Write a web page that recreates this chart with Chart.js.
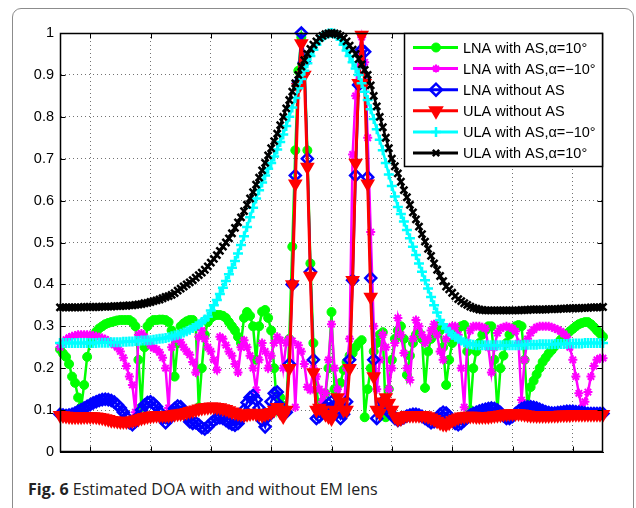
<!DOCTYPE html>
<html>
<head>
<meta charset="utf-8">
<script src="https://cdn.jsdelivr.net/npm/chart.js@4.4.1/dist/chart.umd.min.js"></script>
<style>
  html, body { margin: 0; padding: 0; background: #fff; overflow: hidden; width: 636px; height: 508px; }
  #frame { position: absolute; left: 12px; top: 8px; width: 620px; height: 560px; border: 1px solid #8c8c8c; border-radius: 9px; }
  #chart { position: absolute; left: 0; top: 0; }
  #caption { position: absolute; left: 28px; top: 478px; font-family: 'Open Sans', sans-serif; font-size: 16px; color: #222; white-space: nowrap; }
  #caption b { font-weight: 700; }
</style>
</head>
<body>
<div id="frame"></div>
<canvas id="chart" width="636" height="470"></canvas>
<div id="caption"><b>Fig. 6</b> Estimated DOA with and without EM lens</div>
<script>
//////////////
//
//   DATA (angle in degrees, normalised spectrum)
//
//////////////

var angles = [
  -90,-89,-88,-87,-86,-85,-84,-83,-82,-81,
  -80,-79,-78,-77,-76,-75,-74,-73,-72,-71,
  -70,-69,-68,-67,-66,-65,-64,-63,-62,-61,
  -60,-59,-58,-57,-56,-55,-54,-53,-52,-51,
  -50,-49,-48,-47,-46,-45,-44,-43,-42,-41,
  -40,-39,-38,-37,-36,-35,-34,-33,-32,-31,
  -30,-29,-28,-27,-26,-25,-24,-23,-22,-21,
  -20,-19,-18,-17,-16,-15,-14,-13,-12,-11,
  -10,-9,-8,-7,-6,-5,-4,-3,-2,-1,
  0,1,2,3,4,5,6,7,8,9,
  10,11,12,13,14,15,16,17,18,19,
  20,21,22,23,24,25,26,27,28,29,
  30,31,32,33,34,35,36,37,38,39,
  40,41,42,43,44,45,46,47,48,49,
  50,51,52,53,54,55,56,57,58,59,
  60,61,62,63,64,65,66,67,68,69,
  70,71,72,73,74,75,76,77,78,79,
  80,81,82,83,84,85,86,87,88,89,
  90
];

// LNA with AS, alpha = 10
var lnaAsPos = [
  0.245,0.235,0.227,0.21,0.18,0.165,0.13,0.107,0.16,0.227,
  0.26,0.275,0.287,0.295,0.3,0.305,0.308,0.31,0.312,0.314,
  0.315,0.315,0.315,0.315,0.31,0.3,0.22,0.107,0.25,0.3,
  0.31,0.315,0.315,0.316,0.316,0.315,0.31,0.29,0.18,0.26,
  0.3,0.307,0.312,0.315,0.315,0.3,0.107,0.2,0.28,0.31,
  0.32,0.325,0.327,0.327,0.325,0.32,0.31,0.3,0.29,0.275,
  0.26,0.32,0.334,0.325,0.3,0.22,0.3,0.335,0.339,0.32,
  0.29,0.2,0.1,0.13,0.11,0.1,0.27,0.49,0.72,0.91,
  0.99,0.93,0.72,0.45,0.26,0.15,0.1,0.12,0.14,0.2,
  0.334,0.15,0.12,0.165,0.196,0.215,0.23,0.236,0.25,0.26,
  0.267,0.083,0.15,0.2,0.24,0.26,0.28,0.286,0.083,0.15,
  0.22,0.27,0.29,0.3,0.27,0.184,0.23,0.26,0.28,0.285,
  0.27,0.153,0.24,0.27,0.29,0.3,0.29,0.25,0.16,0.22,
  0.26,0.28,0.295,0.3,0.303,0.24,0.1,0.2,0.24,0.26,
  0.28,0.29,0.3,0.3,0.22,0.1,0.2,0.23,0.26,0.28,
  0.29,0.3,0.303,0.3,0.22,0.107,0.155,0.17,0.185,0.2,
  0.215,0.225,0.235,0.243,0.252,0.26,0.268,0.275,0.282,0.288,
  0.294,0.3,0.305,0.308,0.31,0.31,0.305,0.298,0.29,0.283,
  0.275
];

// LNA with AS, alpha = -10
var lnaAsNeg = [
  0.25,0.26,0.268,0.273,0.276,0.278,0.28,0.28,0.28,0.28,
  0.279,0.278,0.276,0.274,0.272,0.269,0.265,0.261,0.256,0.25,
  0.24,0.225,0.205,0.18,0.16,0.095,0.28,0.283,0.275,0.265,
  0.255,0.248,0.245,0.238,0.225,0.2,0.105,0.25,0.27,0.275,
  0.262,0.25,0.24,0.232,0.215,0.19,0.275,0.29,0.27,0.25,
  0.24,0.22,0.196,0.275,0.27,0.255,0.24,0.23,0.21,0.19,
  0.25,0.267,0.25,0.23,0.2,0.148,0.22,0.26,0.24,0.2,
  0.23,0.26,0.275,0.267,0.2,0.26,0.27,0.265,0.107,0.255,
  0.24,0.21,0.155,0.148,0.2,0.18,0.15,0.12,0.14,0.22,
  0.305,0.2,0.15,0.12,0.1,0.2,0.27,0.71,0.85,0.95,
  0.99,0.93,0.75,0.525,0.3,0.15,0.22,0.28,0.25,0.15,
  0.2,0.26,0.32,0.28,0.236,0.2,0.172,0.27,0.315,0.3,
  0.28,0.26,0.27,0.29,0.305,0.28,0.24,0.22,0.27,0.295,
  0.3,0.3,0.28,0.2,0.107,0.26,0.29,0.3,0.3,0.3,
  0.298,0.295,0.25,0.19,0.25,0.284,0.295,0.298,0.3,0.298,
  0.295,0.288,0.26,0.124,0.22,0.27,0.284,0.292,0.298,0.3,
  0.3,0.3,0.3,0.298,0.295,0.292,0.288,0.282,0.275,0.25,
  0.22,0.18,0.14,0.105,0.12,0.143,0.18,0.205,0.22,0.224,
  0.224
];

// LNA without AS
var lnaNoAs = [
  0.09,0.088,0.087,0.088,0.09,0.093,0.097,0.101,0.105,0.109,
  0.113,0.117,0.12,0.123,0.125,0.126,0.125,0.123,0.119,0.113,
  0.105,0.095,0.083,0.07,0.065,0.072,0.085,0.1,0.112,0.118,
  0.12,0.116,0.108,0.096,0.08,0.07,0.078,0.092,0.104,0.11,
  0.108,0.098,0.085,0.072,0.068,0.07,0.065,0.058,0.055,0.06,
  0.068,0.075,0.08,0.082,0.08,0.075,0.07,0.066,0.064,0.068,
  0.08,0.1,0.118,0.13,0.135,0.125,0.105,0.075,0.06,0.085,
  0.12,0.14,0.143,0.11,0.09,0.095,0.21,0.4,0.66,0.88,
  1.0,0.93,0.7,0.43,0.22,0.08,0.085,0.095,0.105,0.115,
  0.12,0.11,0.095,0.08,0.09,0.12,0.22,0.41,0.66,0.876,
  0.96,0.955,0.656,0.415,0.22,0.08,0.1,0.12,0.11,0.095,
  0.09,0.08,0.075,0.078,0.082,0.086,0.088,0.09,0.09,0.088,
  0.085,0.08,0.075,0.07,0.072,0.08,0.09,0.095,0.093,0.085,
  0.075,0.068,0.065,0.068,0.075,0.082,0.088,0.092,0.095,0.098,
  0.1,0.102,0.104,0.105,0.104,0.1,0.094,0.086,0.08,0.08,
  0.085,0.092,0.098,0.103,0.106,0.108,0.108,0.107,0.105,0.102,
  0.099,0.096,0.094,0.093,0.093,0.094,0.095,0.096,0.097,0.097,
  0.097,0.096,0.095,0.094,0.093,0.092,0.092,0.092,0.092,0.092,
  0.092
];

// ULA without AS
var ulaNoAs = [
  0.088,0.087,0.086,0.085,0.084,0.084,0.084,0.084,0.085,0.085,
  0.085,0.085,0.084,0.083,0.082,0.08,0.078,0.076,0.075,0.074,
  0.073,0.073,0.073,0.074,0.075,0.077,0.079,0.081,0.083,0.085,
  0.086,0.087,0.088,0.088,0.088,0.088,0.088,0.089,0.09,0.091,
  0.092,0.093,0.095,0.097,0.099,0.101,0.103,0.105,0.106,0.107,
  0.108,0.108,0.107,0.106,0.104,0.102,0.099,0.096,0.094,0.092,
  0.09,0.089,0.09,0.092,0.093,0.092,0.09,0.088,0.09,0.093,
  0.095,0.1,0.107,0.095,0.085,0.1,0.2,0.4,0.64,0.87,
  0.975,0.9,0.68,0.42,0.19,0.1,0.105,0.1,0.09,0.085,
  0.08,0.1,0.13,0.12,0.1,0.1,0.2,0.41,0.69,0.88,
  0.995,0.88,0.64,0.37,0.18,0.1,0.093,0.12,0.13,0.117,
  0.1,0.085,0.078,0.08,0.085,0.088,0.088,0.088,0.088,0.088,
  0.088,0.087,0.085,0.082,0.078,0.074,0.07,0.067,0.066,0.07,
  0.075,0.079,0.082,0.084,0.085,0.086,0.086,0.086,0.085,0.085,
  0.085,0.085,0.085,0.086,0.087,0.088,0.089,0.09,0.091,0.092,
  0.092,0.092,0.092,0.091,0.09,0.089,0.088,0.088,0.087,0.087,
  0.087,0.087,0.087,0.088,0.088,0.088,0.089,0.089,0.089,0.089,
  0.09,0.09,0.09,0.09,0.09,0.09,0.09,0.09,0.09,0.09,
  0.09
];

// ULA with AS, alpha = -10
var ulaAsNeg = [
  0.26,0.26,0.26,0.26,0.26,0.26,0.26,0.26,0.26,0.26,
  0.26,0.26,0.26,0.261,0.261,0.261,0.261,0.262,0.262,0.262,
  0.262,0.263,0.263,0.264,0.264,0.265,0.265,0.266,0.266,0.267,
  0.267,0.268,0.269,0.27,0.271,0.272,0.274,0.276,0.278,0.28,
  0.282,0.285,0.288,0.292,0.296,0.3,0.305,0.31,0.316,0.323,
  0.338,0.35,0.363,0.377,0.392,0.408,0.424,0.44,0.456,0.474,
  0.494,0.515,0.537,0.56,0.583,0.605,0.625,0.643,0.66,0.676,
  0.69,0.705,0.722,0.74,0.758,0.778,0.8,0.822,0.845,0.868,
  0.89,0.91,0.928,0.945,0.96,0.972,0.983,0.991,0.996,0.999,
  1.0,0.998,0.993,0.984,0.972,0.958,0.945,0.93,0.915,0.9,
  0.88,0.86,0.84,0.818,0.795,0.77,0.745,0.72,0.69,0.662,
  0.635,0.61,0.585,0.568,0.55,0.53,0.51,0.49,0.47,0.45,
  0.43,0.41,0.39,0.37,0.35,0.333,0.315,0.305,0.295,0.287,
  0.28,0.275,0.27,0.266,0.262,0.259,0.257,0.256,0.255,0.255,
  0.255,0.255,0.255,0.255,0.255,0.255,0.255,0.255,0.255,0.255,
  0.255,0.255,0.255,0.255,0.256,0.256,0.256,0.256,0.256,0.257,
  0.257,0.257,0.257,0.257,0.258,0.258,0.258,0.258,0.258,0.259,
  0.259,0.259,0.259,0.259,0.26,0.26,0.26,0.26,0.26,0.26,
  0.26
];

// ULA with AS, alpha = 10
var ulaAsPos = [
  0.345,0.345,0.345,0.345,0.345,0.345,0.345,0.345,0.346,0.346,
  0.346,0.346,0.346,0.346,0.347,0.347,0.347,0.347,0.348,0.348,
  0.348,0.349,0.349,0.35,0.35,0.351,0.352,0.353,0.355,0.356,
  0.358,0.36,0.362,0.364,0.367,0.37,0.372,0.375,0.379,0.385,
  0.39,0.395,0.4,0.405,0.41,0.416,0.422,0.428,0.435,0.443,
  0.452,0.461,0.47,0.48,0.49,0.5,0.51,0.522,0.535,0.548,
  0.56,0.575,0.59,0.605,0.62,0.638,0.655,0.672,0.69,0.708,
  0.725,0.742,0.76,0.78,0.8,0.82,0.84,0.86,0.88,0.9,
  0.92,0.935,0.95,0.962,0.972,0.98,0.988,0.993,0.997,0.999,
  1.0,0.999,0.997,0.993,0.988,0.98,0.97,0.96,0.95,0.938,
  0.925,0.912,0.9,0.875,0.85,0.825,0.8,0.775,0.75,0.725,
  0.7,0.682,0.665,0.645,0.625,0.608,0.59,0.572,0.555,0.538,
  0.52,0.502,0.485,0.468,0.45,0.435,0.42,0.408,0.395,0.388,
  0.38,0.372,0.365,0.36,0.355,0.351,0.347,0.344,0.342,0.34,
  0.339,0.338,0.338,0.338,0.338,0.338,0.338,0.338,0.338,0.338,
  0.338,0.338,0.338,0.339,0.339,0.339,0.34,0.34,0.34,0.34,
  0.34,0.34,0.341,0.341,0.341,0.341,0.342,0.342,0.342,0.343,
  0.343,0.343,0.343,0.344,0.344,0.344,0.345,0.345,0.345,0.345,
  0.346
];

var xTicks = [-80, -60, -40, -20, 0, 20, 40, 60, 80];
var yTicks = [0, 0.1, 0.2, 0.3, 0.4, 0.5, 0.6, 0.7, 0.8, 0.9, 1];
var yTickLabels = ['0', '0.1', '0.2', '0.3', '0.4', '0.5', '0.6', '0.7', '0.8', '0.9', '1'];

var seriesLabels = [
  'LNA with AS,\u03b1=10\u00b0',
  'LNA with AS,\u03b1=\u221210\u00b0',
  'LNA without AS',
  'ULA without AS',
  'ULA with AS,\u03b1=\u221210\u00b0',
  'ULA with AS,\u03b1=10\u00b0'
];

function toPoints(values) {
  return angles.map(function(a, i) { return { x: a, y: values[i] }; });
}

function makeSet(idx, values, color, style, extra) {
  var ds = {
    label: seriesLabels[idx],
    data: toPoints(values),
    borderColor: color,
    backgroundColor: color,
    borderWidth: 2.5,
    pointStyle: style,
    pointBorderColor: color,
    pointBackgroundColor: color,
    pointRadius: 4,
    pointBorderWidth: 2,
    pointHoverRadius: 0,
    tension: 0,
    clip: false,
    order: 6 - idx
  };
  for (var k in extra) ds[k] = extra[k];
  return ds;
}

var datasets = [
  makeSet(0, lnaAsPos, '#00ff00', 'circle', { pointRadius: 4.5, pointBorderWidth: 1 }),
  makeSet(1, lnaAsNeg, '#ff00ff', 'star', { pointRadius: 4.5, pointBorderWidth: 2 }),
  makeSet(2, lnaNoAs, '#0000ff', 'rectRot', { pointRadius: 5.5, pointBorderWidth: 2.5, pointBackgroundColor: 'rgba(255,255,255,0)' }),
  makeSet(3, ulaNoAs, '#ff0000', 'triangle', { pointRadius: 6.5, pointRotation: 180, borderWidth: 3 }),
  makeSet(4, ulaAsNeg, '#00ffff', 'cross', { pointRadius: 5, pointBorderWidth: 2.5 }),
  makeSet(5, ulaAsPos, '#000000', 'crossRot', { pointRadius: 5, pointBorderWidth: 2.5 })
];

// legend marker sizes
var legendRadius = [4.5, 4, 6, 7, 5, 4.5];

var axesBox = {
  id: 'axesBox',
  afterDraw: function(chart) {
    var ctx = chart.ctx, a = chart.chartArea;
    var xs = chart.scales.x, ys = chart.scales.y;
    var L = Math.round(a.left) + 0.5, R = Math.round(a.right) - 0.5;
    var T = Math.round(a.top) + 0.5, B = Math.round(a.bottom) - 0.5;
    ctx.save();
    ctx.strokeStyle = '#000';
    ctx.lineWidth = 1.5;
    ctx.strokeRect(L, T, R - L, B - T);
    ctx.lineWidth = 1;
    ctx.beginPath();
    xTicks.forEach(function(v) {
      var p = Math.round(xs.getPixelForValue(v)) + 0.5;
      ctx.moveTo(p, B); ctx.lineTo(p, B - 5);
      ctx.moveTo(p, T); ctx.lineTo(p, T + 5);
    });
    yTicks.forEach(function(v) {
      var p = Math.round(ys.getPixelForValue(v)) + 0.5;
      ctx.moveTo(L, p); ctx.lineTo(L + 5, p);
      ctx.moveTo(R, p); ctx.lineTo(R - 5, p);
    });
    ctx.stroke();

    // legend box, top right inside the axes
    var lx = 404, ly = T, lw = R - 404, lh = 133;
    ctx.fillStyle = '#fff';
    ctx.fillRect(lx, ly, lw, lh);
    ctx.lineWidth = 1.5;
    ctx.strokeRect(lx + 0.5, ly, lw - 0.5, lh);
    ctx.font = '14.5px "Liberation Sans", Arial, sans-serif';
    ctx.textBaseline = 'middle';
    chart.data.datasets.forEach(function(ds, i) {
      var cy = ly + 14 + i * 21.1;
      ctx.strokeStyle = ds.borderColor;
      ctx.lineWidth = 3;
      ctx.beginPath();
      ctx.moveTo(413, cy); ctx.lineTo(458, cy);
      ctx.stroke();
      ctx.fillStyle = ds.pointBackgroundColor;
      ctx.strokeStyle = ds.pointBorderColor;
      ctx.lineWidth = ds.pointBorderWidth;
      Chart.helpers.drawPoint(ctx, {
        pointStyle: ds.pointStyle,
        radius: legendRadius[i],
        rotation: ds.pointRotation || 0,
        borderWidth: ds.pointBorderWidth
      }, 436, cy);
      ctx.fillStyle = '#000';
      ctx.fillText(ds.label, 463, cy + 1);
    });
    ctx.restore();
  }
};

window.onload = function() {
  var ctx = document.getElementById('chart').getContext('2d');
  window.doaChart = new Chart(ctx, {
    type: 'line',
    data: { datasets: datasets },
    plugins: [axesBox],
    options: {
      responsive: false,
      animation: false,
      devicePixelRatio: 1,
      layout: { padding: { left: 10, right: 33, top: 33, bottom: 18 } },
      plugins: {
        legend: { display: false },
        tooltip: { enabled: false }
      },
      scales: {
        x: {
          type: 'linear',
          min: -90,
          max: 90,
          afterBuildTicks: function(s) { s.ticks = xTicks.map(function(v) { return { value: v }; }); },
          afterFit: function(s) { s.height = 0; },
          ticks: { display: false },
          grid: { color: 'rgba(0,0,0,0.55)', lineWidth: 1, drawTicks: false },
          border: { display: true, color: '#000', width: 1, dash: [1, 3] }
        },
        y: {
          type: 'linear',
          min: 0,
          max: 1,
          afterBuildTicks: function(s) { s.ticks = yTicks.map(function(v) { return { value: v }; }); },
          afterFit: function(s) { s.width = 50; },
          ticks: {
            padding: 6,
            color: '#000',
            font: { family: '"Liberation Sans", Arial, sans-serif', size: 14.5 },
            callback: function(v, i) { return yTickLabels[i]; }
          },
          grid: { color: 'rgba(0,0,0,0.55)', lineWidth: 1, drawTicks: false },
          border: { display: true, color: '#000', width: 1, dash: [1, 3] }
        }
      }
    }
  });
};
</script>
</body>
</html>
